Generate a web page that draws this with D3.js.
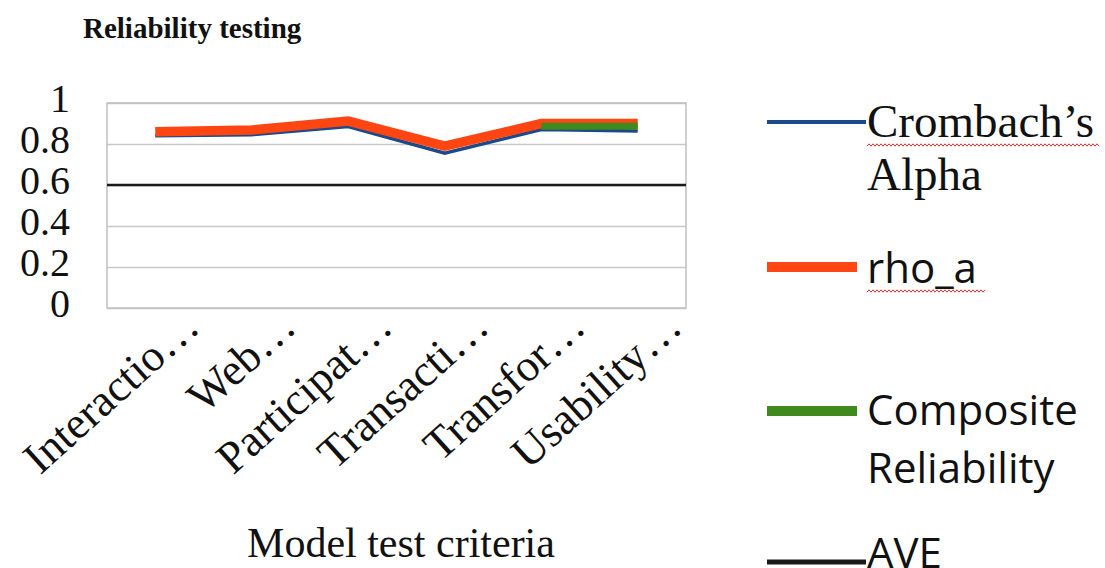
<!DOCTYPE html>
<html lang="en">
<head>
<meta charset="UTF-8">
<title>Reliability testing</title>
<script src="https://d3js.org/d3.v7.min.js"></script>
<style>
  body { margin: 0; background: #fff; }
  .serif { font-family: "Liberation Serif", "Times New Roman", serif; fill: #111; }
  .sans { font-family: "Open Sans", "Liberation Sans", sans-serif; fill: #111; }
  .grid line { stroke: #c8c8c8; stroke-width: 1.5px; }
</style>
</head>
<body>
<svg id="chart" width="1105" height="568"></svg>
<script>
// data
const categories = ["Interactio…", "Web…", "Participat…", "Transacti…", "Transfor…", "Usability…"];
const cronbach  = [0.850, 0.855, 0.895, 0.765, 0.880, 0.873];
const rhoA      = [0.860, 0.868, 0.912, 0.790, 0.900, 0.900];
const composite = [null, null, null, null, 0.887, 0.887];
const aveLevel  = 0.6;
const yTicks    = [0, 0.2, 0.4, 0.6, 0.8, 1];

const seriesNames  = [["Crombach’s", "Alpha"], ["rho_a"], ["Composite", "Reliability"], ["AVE"]];
const seriesColors = ["#1b4a8a", "#ff4512", "#3f8a1f", "#1a1a1a"];

const svg = d3.select("#chart");
const plot = {left: 107, right: 686, top: 103, bottom: 308};

const x = d3.scalePoint().domain(categories).range([plot.left, plot.right]).padding(0.5);
const y = d3.scaleLinear().domain([0, 1]).range([plot.bottom, plot.top]);

// title
svg.append("text").attr("class", "serif")
   .attr("x", 83).attr("y", 38)
   .style("font-size", "29px").style("font-weight", "bold")
   .text("Reliability testing");

// gridlines
svg.append("g").attr("class", "grid")
   .attr("transform", `translate(${plot.left},0)`)
   .call(d3.axisLeft(y).tickValues(yTicks).tickSize(-(plot.right - plot.left)).tickFormat(""))
   .call(g => g.select(".domain").remove());

svg.append("rect")
   .attr("x", plot.left).attr("y", plot.top)
   .attr("width", plot.right - plot.left).attr("height", plot.bottom - plot.top)
   .attr("fill", "none").attr("stroke", "#c0c0c0").attr("stroke-width", 1.5);

// y axis labels
svg.append("g")
   .attr("transform", `translate(70,0)`)
   .call(d3.axisLeft(y).tickValues(yTicks).tickSize(0).tickPadding(0).tickFormat(d => d))
   .call(g => g.select(".domain").remove())
   .call(g => g.selectAll("text").attr("class", "serif")
      .attr("dy", "0.22em").style("font-size", "40px"));

// x axis labels
svg.append("g")
   .attr("transform", `translate(0,${plot.bottom})`)
   .call(d3.axisBottom(x).tickSize(0))
   .call(g => g.select(".domain").remove())
   .call(g => g.selectAll("text").attr("class", "serif")
      .attr("x", 0).attr("y", 0).attr("dy", 0)
      .attr("text-anchor", "end")
      .attr("transform", "translate(46,22) rotate(-42)")
      .style("font-size", "45px"));

// axis title
svg.append("text").attr("class", "serif")
   .attr("x", 401).attr("y", 557).attr("text-anchor", "middle")
   .style("font-size", "42px")
   .text("Model test criteria");

// AVE threshold across the plot
svg.append("line")
   .attr("x1", plot.left).attr("x2", plot.right)
   .attr("y1", y(aveLevel)).attr("y2", y(aveLevel))
   .attr("stroke", seriesColors[3]).attr("stroke-width", 2.5);

const line = d3.line()
   .defined(d => d != null)
   .x((d, i) => x(categories[i]))
   .y(d => y(d));

const lines = [
  {values: cronbach, color: seriesColors[0], width: 3.5, shift: 2},
  {values: rhoA, color: seriesColors[1], width: 9.5, shift: 0},
  {values: composite, color: seriesColors[2], width: 7, shift: 0}
];
lines.forEach(s => {
  svg.append("path")
     .attr("d", line(s.values))
     .attr("transform", `translate(0,${s.shift})`)
     .attr("fill", "none")
     .attr("stroke", s.color)
     .attr("stroke-width", s.width)
     .attr("stroke-linejoin", "miter");
});

// legend
const legend = [
  {y: 122, x2: 866, w: 4, textY: 137, fontCls: "serif", size: 47, lh: 53},
  {y: 267, x2: 857, w: 10, textY: 283, fontCls: "sans", size: 42, lh: 58},
  {y: 411, x2: 857, w: 10, textY: 425, fontCls: "sans", size: 42, lh: 58},
  {y: 562, x2: 866, w: 5, textY: 568, fontCls: "sans", size: 42, lh: 58}
];
legend.forEach((l, i) => {
  svg.append("line")
     .attr("x1", 767).attr("x2", l.x2).attr("y1", l.y).attr("y2", l.y)
     .attr("stroke", seriesColors[i]).attr("stroke-width", l.w);
  const t = svg.append("text").attr("class", l.fontCls)
     .attr("x", 867).attr("y", l.textY).style("font-size", l.size + "px");
  seriesNames[i].forEach((s, j) => {
    t.append("tspan").attr("x", 867).attr("dy", j === 0 ? 0 : l.lh).text(s);
  });
});

// spell-check squiggles under the legend words
function squiggle(x0, x1, yy) {
  const pts = d3.range(x0, x1, 2).map((px, k) => [px, yy + (k % 2 ? -1.2 : 1.2)]);
  svg.append("path").attr("d", d3.line()(pts))
     .attr("fill", "none").attr("stroke", "#e03030").attr("stroke-width", 1);
}
squiggle(867, 1100, 145);
squiggle(867, 987, 291);
</script>
</body>
</html>
